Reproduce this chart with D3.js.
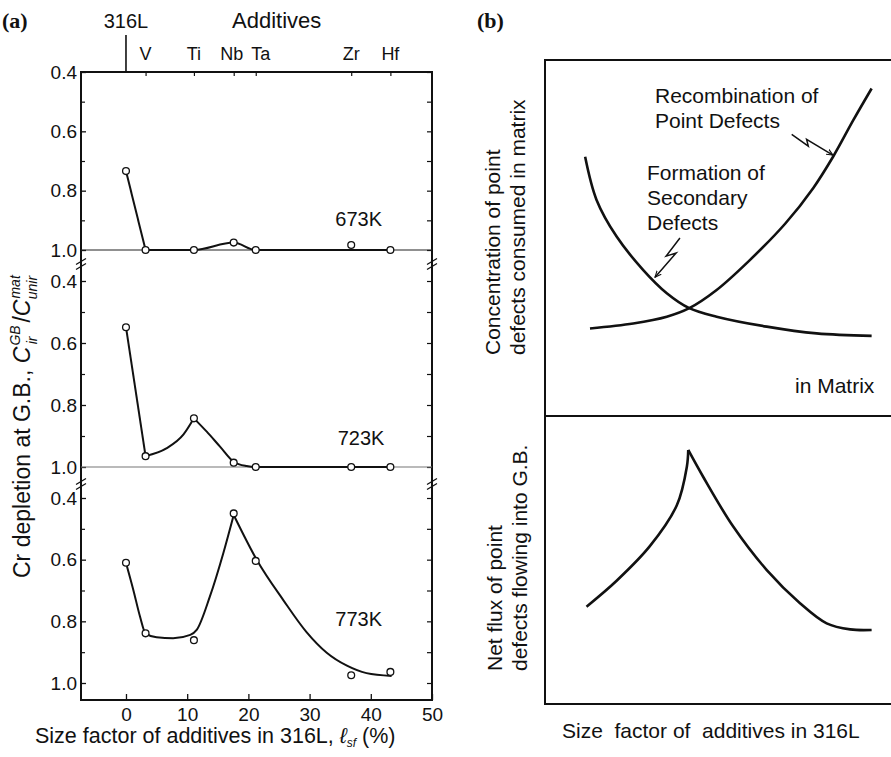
<!DOCTYPE html>
<html>
<head>
<meta charset="utf-8">
<script src="https://cdn.jsdelivr.net/npm/d3@7/dist/d3.min.js"></script>
<style>
  html, body { margin: 0; padding: 0; background: #fff; }
  svg text { font-family: "Liberation Sans", Arial, sans-serif; fill: #111; }
</style>
</head>
<body>
<svg id="chart" width="891" height="757"></svg>
<script>
// ---- panel (a) data ----
var elements = ['316L', 'V', 'Ti', 'Nb', 'Ta', 'Zr', 'Hf'];
var sizeFactor = [0, 3.2, 11.1, 17.6, 21.2, 36.8, 43.2];
var temps = ['673K', '723K', '773K'];
var depletion673 = [0.734, 1.0, 1.0, 0.975, 1.0, 0.983, 1.0];
var depletion723 = [0.549, 0.965, 0.843, 0.986, 1.0, 1.0, 1.0];
var depletion773 = [0.61, 0.839, 0.861, 0.45, 0.604, 0.975, 0.964];

// hand-drawn guide curves (split at cusps)
var fit673 = [
  [[0, 0.734], [3.2, 1.0]],
  [[3.2, 1.0], [11.1, 1.0], [17.6, 0.975], [21.2, 1.0], [43.2, 1.0]]
];
var fit723 = [
  [[0, 0.549], [3.2, 0.965]],
  [[3.2, 0.965], [6.6, 0.94], [9.4, 0.895], [11.1, 0.843]],
  [[11.1, 0.843], [13.2, 0.886], [15.4, 0.935], [17.6, 0.983], [19.7, 0.997], [21.2, 1.0], [43.2, 1.0]]
];
var fit773 = [
  [[0, 0.61], [1.2, 0.698], [2.3, 0.785], [3.2, 0.839], [5.0, 0.852], [7.7, 0.855], [10.5, 0.844],
   [11.55, 0.828], [13.7, 0.72], [15.9, 0.579], [17.6, 0.455]],
  [[17.6, 0.455], [21.5, 0.605], [25.7, 0.731], [29.5, 0.835], [32.8, 0.902], [36.1, 0.944],
   [39.3, 0.968], [43.4, 0.977]]
];
var xTicks = [0, 10, 20, 30, 40, 50];
var yTicks = [0.4, 0.6, 0.8, 1.0];
var yMinor = [0.5, 0.7, 0.9];

// ---- panel (b) data (arbitrary units 0..1) ----
var recombination = [[0.130, 0.246], [0.255, 0.260], [0.352, 0.279], [0.417, 0.303], [0.496, 0.354],
  [0.592, 0.438], [0.694, 0.540], [0.775, 0.640], [0.833, 0.729], [0.891, 0.831], [0.944, 0.920]];
var formation = [[0.116, 0.728], [0.149, 0.607], [0.207, 0.504], [0.284, 0.410], [0.352, 0.345],
  [0.417, 0.303], [0.496, 0.279], [0.641, 0.251], [0.785, 0.232], [0.944, 0.225]];
var netFluxRise = [[0.120, 0.338], [0.207, 0.428], [0.303, 0.548], [0.381, 0.690], [0.410, 0.824], [0.414, 0.882]];
var netFluxFall = [[0.414, 0.882], [0.457, 0.789], [0.544, 0.616], [0.641, 0.465], [0.737, 0.350],
  [0.814, 0.280], [0.882, 0.259], [0.944, 0.257]];
var recombArrow = [[0.713, 0.791], [0.761, 0.758], [0.756, 0.777], [0.832, 0.733]];
var formArrow = [[0.390, 0.500], [0.350, 0.449], [0.379, 0.458], [0.318, 0.390]];

var svg = d3.select('#chart');

svg.append('defs').append('marker')
  .attr('id', 'arrow')
  .attr('viewBox', '0 0 10 10')
  .attr('refX', 9).attr('refY', 5)
  .attr('markerWidth', 7).attr('markerHeight', 7)
  .attr('markerUnits', 'userSpaceOnUse')
  .attr('orient', 'auto')
  .append('path')
  .attr('d', 'M0,1 L9,5 L0,9')
  .attr('fill', 'none').attr('stroke', '#111').attr('stroke-width', 1.6);

// ================= panel (a) =================
var aLeft = 81, aRight = 432, aTop = 72, aBottom = 700;
var x = d3.scaleLinear().domain([-7.35, 50]).range([aLeft, aRight]);
var panelRanges = [[72, 250], [281, 467], [498, 683]];
var ys = panelRanges.map(function(r) { return d3.scaleLinear().domain([0.4, 1.0]).range(r); });
var series = [depletion673, depletion723, depletion773];
var fits = [fit673, fit723, fit773];

var gA = svg.append('g');

// frame
gA.append('path')
  .attr('d', 'M' + aLeft + ',' + aTop + 'H' + aRight + 'V' + aBottom + 'H' + aLeft + 'Z')
  .attr('fill', 'none').attr('stroke', '#111').attr('stroke-width', 2);

ys.forEach(function(y, i) {
  var gl = gA.append('g').attr('transform', 'translate(' + aLeft + ',0)')
    .call(d3.axisLeft(y).tickValues(yTicks).tickSizeInner(-5).tickSizeOuter(0).tickPadding(4).tickFormat(d3.format('.1f')));
  gl.select('.domain').remove();
  gl.selectAll('text').attr('font-size', 19).attr('font-family', '"Liberation Sans", Arial, sans-serif').attr('fill', '#111');
  gl.selectAll('line').attr('stroke', '#111').attr('stroke-width', 1.3);
  var gm = gA.append('g').attr('transform', 'translate(' + aLeft + ',0)')
    .call(d3.axisLeft(y).tickValues(yMinor).tickSize(-4).tickFormat(''));
  gm.select('.domain').remove();
  gm.selectAll('line').attr('stroke', '#111').attr('stroke-width', 1.2);

  var gr = gA.append('g').attr('transform', 'translate(' + aRight + ',0)')
    .call(d3.axisRight(y).tickValues(yTicks.concat(yMinor)).tickSize(-5).tickFormat(''));
  gr.select('.domain').remove();
  gr.selectAll('line').attr('stroke', '#111').attr('stroke-width', 1.2);

  // 1.0 base line in upper two panels
  if (i < 2) {
    gA.append('line')
      .attr('x1', aLeft).attr('x2', aRight)
      .attr('y1', y(1.0)).attr('y2', y(1.0))
      .attr('stroke', i === 0 ? '#222' : '#777').attr('stroke-width', 1.1);
  }

  var line = d3.line()
    .x(function(d) { return x(d[0]); })
    .y(function(d) { return y(d[1]); })
    .curve(d3.curveMonotoneX);
  gA.selectAll(null).data(fits[i]).enter().append('path')
    .attr('d', line)
    .attr('fill', 'none').attr('stroke', '#111').attr('stroke-width', 2);

  gA.selectAll(null).data(series[i]).enter().append('circle')
    .attr('cx', function(d, j) { return x(sizeFactor[j]); })
    .attr('cy', function(d) { return y(d); })
    .attr('r', 3.4)
    .attr('fill', '#fff').attr('stroke', '#111').attr('stroke-width', 1.3);
});

// break marks
[264, 484].forEach(function(by) {
  [aLeft, aRight].forEach(function(bx) {
    [-2.5, 2.5].forEach(function(o) {
      gA.append('line')
        .attr('x1', bx - 5).attr('y1', by + o + 3)
        .attr('x2', bx + 5).attr('y2', by + o - 3)
        .attr('stroke', '#111').attr('stroke-width', 1.3);
    });
  });
});

// bottom axis
var gb = gA.append('g').attr('transform', 'translate(0,' + aBottom + ')')
  .call(d3.axisBottom(x).tickValues(xTicks).tickSizeInner(-6).tickSizeOuter(0).tickPadding(8));
gb.select('.domain').remove();
gb.selectAll('text').attr('font-size', 19).attr('font-family', '"Liberation Sans", Arial, sans-serif').attr('fill', '#111');
gb.selectAll('line').attr('stroke', '#111').attr('stroke-width', 1.3);

// top axis: additive positions
var gt = gA.append('g').attr('transform', 'translate(0,' + aTop + ')')
  .call(d3.axisTop(x).tickValues(sizeFactor.slice(1)).tickSize(-4).tickFormat(''));
gt.select('.domain').remove();
gt.selectAll('line').attr('stroke', '#111').attr('stroke-width', 1.2);

gA.append('line')
  .attr('x1', x(0)).attr('x2', x(0)).attr('y1', 35).attr('y2', aTop)
  .attr('stroke', '#111').attr('stroke-width', 1.6);

var labelShift = [0, 0, 0, -2, 5, 0, 0];
gA.selectAll(null).data(elements.slice(1)).enter().append('text')
  .attr('x', function(d, j) { return x(sizeFactor[j + 1]) + labelShift[j + 1]; })
  .attr('y', 60)
  .attr('text-anchor', 'middle')
  .attr('font-size', 18)
  .text(function(d) { return d; });

gA.append('text').attr('x', x(0)).attr('y', 28).attr('text-anchor', 'middle')
  .attr('font-size', 20).text(elements[0]);
gA.append('text').attr('x', 232).attr('y', 28).attr('font-size', 22).text('Additives');

// temperature labels
var tempPos = [[34.2, 0.92], [34.6, 0.93], [34.2, 0.815]];
temps.forEach(function(t, i) {
  gA.append('text')
    .attr('x', x(tempPos[i][0])).attr('y', ys[i](tempPos[i][1]))
    .attr('font-size', 20).text(t);
});

// axis titles
var xl = gA.append('text').attr('x', 35).attr('y', 743).attr('font-size', 21.5);
xl.append('tspan').text('Size factor of additives in 316L, ');
xl.append('tspan').attr('font-style', 'italic').text('\u2113');
xl.append('tspan').attr('font-size', 12).attr('dy', 4).attr('font-style', 'italic').text('sf');
xl.append('tspan').attr('dy', -4).text(' (%)');

var yl = gA.append('text').attr('transform', 'translate(30,578) rotate(-90)').attr('font-size', 23);
yl.append('tspan').text('Cr depletion at G.B.,  ');
yl.append('tspan').attr('font-style', 'italic').text('C');
yl.append('tspan').attr('font-size', 14).attr('dx', 1).attr('dy', -10).attr('font-style', 'italic').text('GB');
yl.append('tspan').attr('font-size', 14).attr('dx', -19).attr('dy', 17).attr('font-style', 'italic').text('ir');
yl.append('tspan').attr('dx', 14).attr('dy', -7).text('/');
yl.append('tspan').attr('font-style', 'italic').text('C');
yl.append('tspan').attr('font-size', 14).attr('dx', 1).attr('dy', -10).attr('font-style', 'italic').text('mat');
yl.append('tspan').attr('font-size', 14).attr('dx', -24).attr('dy', 17).attr('font-style', 'italic').text('unir');

svg.append('text').attr('x', 2).attr('y', 28).attr('font-size', 22).attr('font-weight', 'bold')
  .style('font-family', '"Liberation Serif", "Times New Roman", serif').text('(a)');

// ================= panel (b) =================
var bl = 545, br = 891, bt = 60, bm = 416, bb = 704;
var xb = d3.scaleLinear().domain([0, 1]).range([bl, br]);
var yTop = d3.scaleLinear().domain([0, 1]).range([bm, bt]);
var yBot = d3.scaleLinear().domain([0, 1]).range([bb, bm]);

var gB = svg.append('g');
gB.append('path')
  .attr('d', 'M' + br + ',' + bt + 'H' + bl + 'V' + bb + 'H' + br + 'M' + bl + ',' + bm + 'H' + br)
  .attr('fill', 'none').attr('stroke', '#111').attr('stroke-width', 2);

var lineTop = d3.line().x(function(d) { return xb(d[0]); }).y(function(d) { return yTop(d[1]); }).curve(d3.curveCatmullRom.alpha(0.5));
var lineBot = d3.line().x(function(d) { return xb(d[0]); }).y(function(d) { return yBot(d[1]); }).curve(d3.curveCatmullRom.alpha(0.5));

gB.selectAll(null).data([recombination, formation]).enter().append('path')
  .attr('d', lineTop).attr('fill', 'none').attr('stroke', '#111').attr('stroke-width', 2.6);
gB.selectAll(null).data([netFluxRise, netFluxFall]).enter().append('path')
  .attr('d', lineBot).attr('fill', 'none').attr('stroke', '#111').attr('stroke-width', 2.6);

var lineArrow = d3.line().x(function(d) { return xb(d[0]); }).y(function(d) { return yTop(d[1]); });
gB.selectAll(null).data([recombArrow, formArrow]).enter().append('path')
  .attr('d', lineArrow).attr('fill', 'none').attr('stroke', '#111').attr('stroke-width', 1.5)
  .attr('marker-end', 'url(#arrow)');

function addLines(g, xPos, ys0, lines, size) {
  lines.forEach(function(s, i) {
    g.append('text').attr('x', xPos).attr('y', ys0[i]).attr('font-size', size).text(s);
  });
}
addLines(gB, 655, [103, 128], ['Recombination of', 'Point Defects'], 21);
addLines(gB, 647, [180, 205, 230], ['Formation of', 'Secondary', 'Defects'], 21);
gB.append('text').attr('x', 795).attr('y', 393).attr('font-size', 21).text('in Matrix');

gB.append('text').attr('x', 562).attr('y', 738).attr('font-size', 21)
  .style('white-space', 'pre').text('Size  factor of  additives in 316L');

function vLabel(g, bx, by, s) {
  g.append('text').attr('transform', 'translate(' + bx + ',' + by + ') rotate(-90)')
    .attr('font-size', 21).text(s);
}
vLabel(gB, 500, 355, 'Concentration of point');
vLabel(gB, 525, 355, 'defects consumed in matrix');
vLabel(gB, 502, 671, 'Net flux of point');
vLabel(gB, 527, 671, 'defects flowing into G.B.');

svg.append('text').attr('x', 477).attr('y', 28).attr('font-size', 22).attr('font-weight', 'bold')
  .style('font-family', '"Liberation Serif", "Times New Roman", serif').text('(b)');
</script>
</body>
</html>
